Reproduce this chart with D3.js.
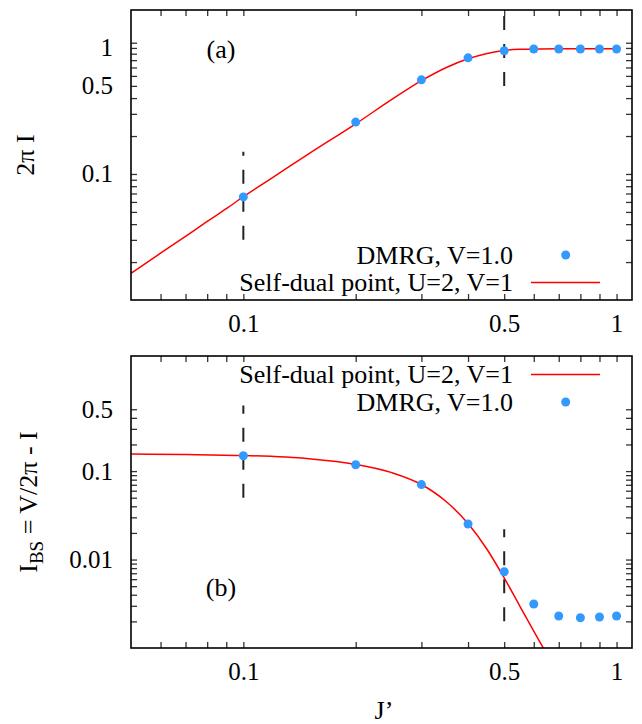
<!DOCTYPE html>
<html><head><meta charset="utf-8">
<script src="https://cdn.jsdelivr.net/npm/d3@7"></script>
<style>
body{margin:0;background:#fff}
svg{display:block}
text{font-family:"Liberation Serif","Times New Roman",serif;fill:#000}
</style>
</head><body><svg id="c" width="642" height="724"></svg>
<script>
// ---------- data ----------
const dmrgJ = [0.1, 0.2, 0.3, 0.4, 0.5, 0.6, 0.7, 0.8, 0.9, 1.0];
const dmrgTop = [0.0658, 0.258, 0.558, 0.835, 0.950, 0.980, 0.980, 0.980, 0.980, 0.980];
const dmrgBottom = [0.149, 0.118, 0.0703, 0.0252, 0.00728, 0.00314, 0.00230, 0.00220, 0.00224, 0.00230];

const curveTopJ = [0.05, 0.06, 0.07, 0.08, 0.09, 0.1, 0.12, 0.15, 0.2, 0.25, 0.3, 0.35, 0.4, 0.45, 0.5, 0.55, 0.6, 0.7, 0.8, 0.9, 1.0];
const curveTop  = [0.0163, 0.0235, 0.032, 0.042, 0.053, 0.066, 0.094, 0.145, 0.25, 0.39, 0.55, 0.70, 0.82, 0.905, 0.955, 0.975, 0.982, 0.984, 0.984, 0.984, 0.984];

const curveBotJ = [0.05, 0.07, 0.1, 0.15, 0.2, 0.25, 0.3, 0.35, 0.4, 0.45, 0.5, 0.55, 0.6, 0.65, 0.7];
const curveBot  = [0.156, 0.154, 0.150, 0.138, 0.119, 0.096, 0.0705, 0.045, 0.0255, 0.0130, 0.0062, 0.0030, 0.00155, 0.00085, 0.00045];

const xLabelTicks = [0.1, 0.5, 1];
const xMinorTicks = [0.06, 0.07, 0.08, 0.09, 0.2, 0.3, 0.4, 0.6, 0.7, 0.8, 0.9];
const topYLabelTicks = [0.1, 0.5, 1];
const topYMinorTicks = [0.02, 0.03, 0.04, 0.05, 0.06, 0.07, 0.08, 0.09, 0.2, 0.3, 0.4, 0.6, 0.7, 0.8, 0.9, 1.1];
const botYLabelTicks = [0.01, 0.1, 0.5];
const botYMinorTicks = [0.002, 0.003, 0.004, 0.005, 0.006, 0.007, 0.008, 0.009, 0.02, 0.03, 0.04, 0.05, 0.06, 0.07, 0.08, 0.09, 0.2, 0.3, 0.4];

const markTop = [{x: 0.1, y0: 0.03, y1: 0.15}, {x: 0.5, y0: 0.5, y1: 2}];
const markBot = [{x: 0.1, y0: 0.05, y1: 0.55}, {x: 0.5, y0: 0.002, y1: 0.022}];

const legendTop = ["DMRG, V=1.0", "Self-dual point, U=2, V=1"];
const legendBot = ["Self-dual point, U=2, V=1", "DMRG, V=1.0"];

// ---------- layout ----------
const svg = d3.select("#c");
const L = 131, R = 632;
const FS = 25, FL = 26;
const dotColor = "#3399ff", lineColor = "#ff0000";
const x = d3.scaleLog().domain([0.05, 1.1]).range([L, R]);

function fmt(v){ return v === 1 ? "1" : String(v); }

function panel(cfg){
  const y = d3.scaleLog().domain(cfg.ydom).range([cfg.bottom, cfg.top]);
  const g = svg.append("g");
  const clipId = "clip" + cfg.id;
  svg.append("clipPath").attr("id", clipId).append("rect")
    .attr("x", L).attr("y", cfg.top).attr("width", R - L).attr("height", cfg.bottom - cfg.top);

  const xt = xLabelTicks.concat(xMinorTicks);
  const yt = cfg.yLabels.concat(cfg.yMinor);
  const tickStyle = sel => { sel.select(".domain").remove(); sel.selectAll(".tick line").attr("stroke", "#333").attr("stroke-width", 1.3); sel.selectAll("text").attr("font-size", FS).attr("fill", "#000"); };

  g.append("g").attr("transform", `translate(0,${cfg.bottom})`)
    .call(d3.axisBottom(x).tickValues(xt).tickSize(-6).tickPadding(14)
      .tickFormat(d => xLabelTicks.includes(d) ? fmt(d) : ""))
    .call(tickStyle);
  g.append("g").attr("transform", `translate(0,${cfg.top})`)
    .call(d3.axisTop(x).tickValues(xt).tickSize(-6).tickFormat(""))
    .call(tickStyle);
  g.append("g").attr("transform", `translate(${L},0)`)
    .call(d3.axisLeft(y).tickValues(yt).tickSize(-6).tickPadding(18)
      .tickFormat(d => cfg.yLabels.includes(d) ? fmt(d) : ""))
    .call(tickStyle);
  g.append("g").attr("transform", `translate(${R},0)`)
    .call(d3.axisRight(y).tickValues(yt).tickSize(-6).tickFormat(""))
    .call(tickStyle);

  // dashed markers
  g.append("g").attr("clip-path", `url(#${clipId})`).selectAll("line").data(cfg.marks).join("line")
    .attr("x1", d => x(d.x)).attr("x2", d => x(d.x))
    .attr("y1", d => y(d.y0)).attr("y2", d => y(d.y1))
    .attr("stroke", "#222").attr("stroke-width", 2).attr("stroke-dasharray", "14,14");

  // curve
  const line = d3.line().x(d => x(d[0])).y(d => y(d[1])).curve(d3.curveMonotoneX);
  g.append("path").attr("clip-path", `url(#${clipId})`)
    .datum(d3.zip(cfg.cj, cfg.cv)).attr("d", line)
    .attr("fill", "none").attr("stroke", lineColor).attr("stroke-width", 1.5);

  // dots
  g.append("g").attr("clip-path", `url(#${clipId})`).selectAll("circle").data(d3.zip(dmrgJ, cfg.dots)).join("circle")
    .attr("cx", d => x(d[0])).attr("cy", d => y(d[1])).attr("r", 4.5).attr("fill", dotColor);

  // frame
  g.append("rect").attr("x", L).attr("y", cfg.top).attr("width", R - L).attr("height", cfg.bottom - cfg.top)
    .attr("fill", "none").attr("stroke", "#000").attr("stroke-width", 1.6);

  // legend
  cfg.legend.forEach((t, i) => {
    const ly = cfg.legY[i];
    g.append("text").attr("x", 513).attr("y", ly).attr("dy", "0.33em").attr("text-anchor", "end").attr("font-size", FL).text(t);
    if (t.startsWith("DMRG")) {
      g.append("circle").attr("cx", 565.7).attr("cy", ly).attr("r", 4.5).attr("fill", dotColor);
    } else {
      g.append("line").attr("x1", 531).attr("x2", 600).attr("y1", ly).attr("y2", ly).attr("stroke", lineColor).attr("stroke-width", 1.5);
    }
  });

  // panel tag
  g.append("text").attr("x", 221).attr("y", cfg.tagY).attr("text-anchor", "middle").attr("font-size", FL).text(cfg.tag);
  return y;
}

panel({id: "a", top: 10, bottom: 300, ydom: [0.01, 2], yLabels: topYLabelTicks, yMinor: topYMinorTicks,
  marks: markTop, cj: curveTopJ, cv: curveTop, dots: dmrgTop, legend: legendTop, legY: [255, 282.5], tag: "(a)", tagY: 58});
panel({id: "b", top: 356, bottom: 648, ydom: [0.001, 2], yLabels: botYLabelTicks, yMinor: botYMinorTicks,
  marks: markBot, cj: curveBotJ, cv: curveBot, dots: dmrgBottom, legend: legendBot, legY: [374.5, 402], tag: "(b)", tagY: 596});

// axis titles
svg.append("text").attr("transform", "translate(34,155) rotate(-90)").attr("text-anchor", "middle")
  .attr("font-size", FL).text("2π I");
const yl = svg.append("text").attr("transform", "translate(37,502) rotate(-90)").attr("text-anchor", "middle").attr("font-size", FL);
yl.append("tspan").text("I");
yl.append("tspan").attr("font-size", 19).attr("dy", 6).text("BS");
yl.append("tspan").attr("dy", -6).text(" = V/2π - I");
svg.append("text").attr("x", 384).attr("y", 719).attr("text-anchor", "middle").attr("font-size", FL).text("J’");
</script>
</body></html>
